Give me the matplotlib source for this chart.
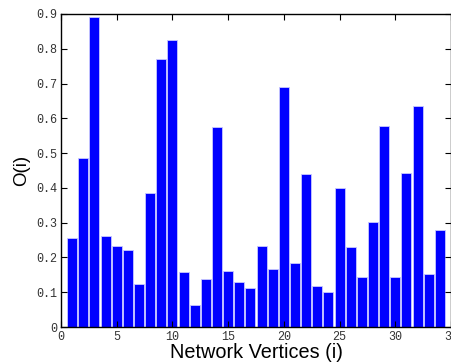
import numpy as np
import matplotlib
matplotlib.use("Agg")
import matplotlib.pyplot as plt

# valores
vertices = list(range(1, 35))
valores = [0.257, 0.487, 0.890, 0.263, 0.232, 0.220, 0.125, 0.386, 0.771, 0.824,
           0.157, 0.064, 0.139, 0.576, 0.161, 0.130, 0.113, 0.233, 0.166, 0.689,
           0.185, 0.441, 0.117, 0.100, 0.401, 0.230, 0.144, 0.301, 0.579, 0.144,
           0.443, 0.635, 0.153, 0.278]
xticks = [0, 5, 10, 15, 20, 25, 30, 35]
yticks = [0, 0.1, 0.2, 0.3, 0.4, 0.5, 0.6, 0.7, 0.8, 0.9]

fig = plt.figure(figsize=(4.51, 3.63), dpi=100)
ax = fig.add_axes([61 / 451, 1 - 327 / 363, 390 / 451, 313 / 363])

ax.bar(vertices, valores, width=0.9, color='#0000ff', edgecolor='#c8c8ff', linewidth=0.6)

ax.set_xlim(0, 35)
ax.set_ylim(0, 0.9)
ax.set_xticks(xticks)
ax.set_yticks(yticks)
ax.set_xticklabels([str(t) for t in xticks])
ax.set_yticklabels(['0' if t == 0 else f'{t:.1f}' for t in yticks])
ax.tick_params(direction='in', top=True, right=True, length=4, width=0.8,
               labelsize=8.5, labelcolor='#333333', pad=3)
for lab in ax.get_xticklabels() + ax.get_yticklabels():
    lab.set_family('Liberation Mono')
for s in ax.spines.values():
    s.set_linewidth(1.0)

ax.set_xlabel('Network Vertices (i)', fontsize=14.3, family='Liberation Sans', labelpad=0)
ax.set_ylabel('O(i)', fontsize=13.5, family='Liberation Sans', labelpad=4)

fig.savefig('out.png', dpi=100)
